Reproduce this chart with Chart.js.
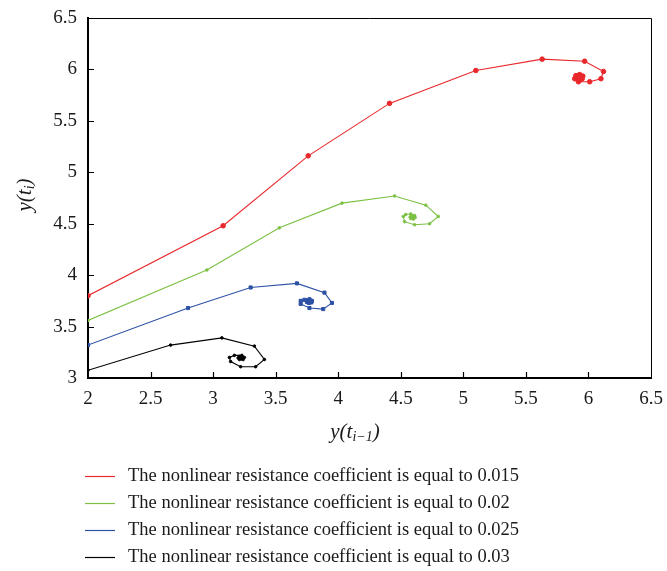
<!DOCTYPE html>
<html>
<head>
<meta charset="utf-8">
<script src="https://cdn.jsdelivr.net/npm/chart.js@4.4.1/dist/chart.umd.min.js"></script>
<style>
  html, body { margin: 0; padding: 0; background: #fff; }
  #wrap { width: 667px; height: 571px; }
</style>
</head>
<body>
<div id="wrap"><canvas id="phase-chart"></canvas></div>
<script>
// Axis ticks
const xTicks = [2, 2.5, 3, 3.5, 4, 4.5, 5, 5.5, 6, 6.5];
const yTicks = [3, 3.5, 4, 4.5, 5, 5.5, 6, 6.5];

const legendLabels = [
    "The nonlinear resistance coefficient is equal to 0.015",
    "The nonlinear resistance coefficient is equal to 0.02",
    "The nonlinear resistance coefficient is equal to 0.025",
    "The nonlinear resistance coefficient is equal to 0.03",
];

// y(t_{i-1}) against y(t_i) for each coefficient
const redX = [2.00, 3.08, 3.76, 4.41, 5.10, 5.63, 5.97, 6.12, 6.10, 6.01, 5.92, 5.89, 5.90, 5.93, 5.955, 5.95, 5.93, 5.91, 5.905, 5.915, 5.935, 5.94, 5.93, 5.92, 5.915, 5.92, 5.93, 5.93, 5.925];
const redY = [3.80, 4.48, 5.16, 5.67, 5.99, 6.10, 6.08, 5.98, 5.91, 5.88, 5.88, 5.91, 5.94, 5.95, 5.935, 5.91, 5.895, 5.905, 5.925, 5.94, 5.935, 5.92, 5.905, 5.91, 5.925, 5.932, 5.925, 5.915, 5.92];

const greenX = [2.00, 2.95, 3.53, 4.03, 4.45, 4.70, 4.80, 4.73, 4.61, 4.53, 4.52, 4.54, 4.58, 4.61, 4.615, 4.60, 4.58, 4.575, 4.585, 4.60, 4.605, 4.595, 4.59];
const greenY = [3.56, 4.05, 4.46, 4.70, 4.77, 4.68, 4.57, 4.50, 4.49, 4.52, 4.57, 4.59, 4.595, 4.58, 4.56, 4.545, 4.55, 4.565, 4.575, 4.57, 4.56, 4.555, 4.56];

const blueX = [2.00, 2.80, 3.30, 3.67, 3.89, 3.95, 3.88, 3.77, 3.70, 3.70, 3.73, 3.77, 3.79, 3.785, 3.765, 3.75, 3.755, 3.77, 3.78, 3.775, 3.765, 3.77];
const blueY = [3.32, 3.68, 3.88, 3.92, 3.83, 3.73, 3.67, 3.68, 3.72, 3.75, 3.76, 3.765, 3.75, 3.735, 3.73, 3.74, 3.755, 3.76, 3.75, 3.74, 3.745, 3.75];

const blackX = [2.00, 2.66, 3.07, 3.33, 3.41, 3.34, 3.22, 3.14, 3.13, 3.17, 3.23, 3.25, 3.24, 3.21, 3.20, 3.21, 3.23, 3.235, 3.225, 3.215, 3.22];
const blackY = [3.075, 3.32, 3.39, 3.31, 3.18, 3.11, 3.11, 3.16, 3.20, 3.22, 3.22, 3.20, 3.18, 3.18, 3.195, 3.21, 3.21, 3.195, 3.185, 3.195, 3.20];

const serif = "'Liberation Serif', 'DejaVu Serif', serif";

function toPoints(xs, ys){
    return xs.map((x, i) => ({x: x, y: ys[i]}));
};

function makeDataset(label, xs, ys, color, pointStyle, radius){
    return {
        label: label,
        data: toPoints(xs, ys),
        showLine: true,
        borderColor: color,
        backgroundColor: color,
        borderWidth: 1.1,
        pointStyle: pointStyle,
        pointRadius: radius,
        pointBorderWidth: 1,
        pointBackgroundColor: color,
        pointBorderColor: color,
        tension: 0,
    };
};

// Draws text runs where some runs are subscripts
function drawRich(ctx, parts, cx, cy){
    const mainFont = "italic 21px " + serif;
    const subFont = "italic 14px " + serif;
    let total = 0;
    parts.forEach(p => {
        ctx.font = p.sub ? subFont : mainFont;
        total += ctx.measureText(p.t).width;
    });
    let x = cx - total / 2;
    ctx.textBaseline = "middle";
    ctx.textAlign = "left";
    parts.forEach(p => {
        ctx.font = p.sub ? subFont : mainFont;
        ctx.fillText(p.t, x, p.sub ? cy + 5 : cy);
        x += ctx.measureText(p.t).width;
    });
};

// Box frame, inward ticks, axis titles and legend
const decorPlugin = {
    id: "decor",
    afterDraw(chart){
        const ctx = chart.ctx;
        const area = chart.chartArea;
        const xs = chart.scales.x;
        const ys = chart.scales.y;
        ctx.save();

        ctx.strokeStyle = "#000";
        ctx.lineWidth = 1;
        ctx.beginPath();
        ctx.moveTo(area.left, area.top + 0.5);
        ctx.lineTo(area.right + 0.5, area.top + 0.5);
        ctx.lineTo(area.right + 0.5, area.bottom);
        ctx.stroke();

        ctx.lineWidth = 1.2;
        ctx.beginPath();
        xTicks.slice(1, -1).forEach(v => {
            const px = Math.round(xs.getPixelForValue(v)) + 0.5;
            ctx.moveTo(px, area.bottom);
            ctx.lineTo(px, area.bottom - 6);
        });
        yTicks.slice(1, -1).forEach(v => {
            const py = Math.round(ys.getPixelForValue(v)) + 0.5;
            ctx.moveTo(area.left, py);
            ctx.lineTo(area.left + 6, py);
        });
        ctx.stroke();

        ctx.fillStyle = "#1a1a1a";
        drawRich(ctx, [{t: "y(t"}, {t: "i\u22121", sub: true}, {t: ")"}], area.left + 267, area.bottom + 54);
        ctx.save();
        ctx.translate(25, area.top + 177);
        ctx.rotate(-Math.PI / 2);
        drawRich(ctx, [{t: "y(t"}, {t: "i", sub: true}, {t: ")"}], 0, 0);
        ctx.restore();

        const startX = area.left - 3;
        const firstRow = area.bottom + 98;
        ctx.font = "18.5px " + serif;
        ctx.textBaseline = "middle";
        ctx.textAlign = "left";
        chart.data.datasets.forEach((ds, i) => {
            const rowY = firstRow + i * 27;
            ctx.strokeStyle = ds.borderColor;
            ctx.lineWidth = 1.2;
            ctx.beginPath();
            ctx.moveTo(startX, rowY + 0.5);
            ctx.lineTo(startX + 30, rowY + 0.5);
            ctx.stroke();
            ctx.fillStyle = "#1a1a1a";
            ctx.fillText(ds.label, startX + 43, rowY);
        });
        ctx.restore();
    }
};

const tickFont = {family: serif, size: 19};

const chartConfig = {
    type: "scatter",
    data: {
        datasets: [
            makeDataset(legendLabels[0], redX, redY, "#e8282c", "circle", 2.3),
            makeDataset(legendLabels[1], greenX, greenY, "#7cc144", "circle", 1.3),
            makeDataset(legendLabels[2], blueX, blueY, "#2d52a5", "rect", 2.2),
            makeDataset(legendLabels[3], blackX, blackY, "#000000", "circle", 1.3),
        ]
    },
    options: {
        responsive: true,
        maintainAspectRatio: false,
        animation: false,
        layout: {
            padding: {top: 18, right: 16, left: 0, bottom: 0}
        },
        scales: {
            x: {
                type: "linear",
                min: 2,
                max: 6.5,
                afterBuildTicks: scale => { scale.ticks = xTicks.map(v => ({value: v})); },
                afterFit: scale => {
                    scale.height = 193;
                    scale.paddingLeft = 0;
                    scale.paddingRight = 0;
                },
                ticks: {
                    color: "#1a1a1a",
                    font: tickFont,
                    padding: 10,
                    maxRotation: 0,
                    callback: v => String(v),
                },
                grid: {
                    drawOnChartArea: false,
                    drawTicks: false,
                },
                border: {
                    color: "#000",
                    width: 2,
                }
            },
            y: {
                type: "linear",
                min: 3,
                max: 6.5,
                afterBuildTicks: scale => { scale.ticks = yTicks.map(v => ({value: v})); },
                afterFit: scale => {
                    scale.width = 88;
                    scale.paddingTop = 0;
                    scale.paddingBottom = 0;
                },
                ticks: {
                    color: "#1a1a1a",
                    font: tickFont,
                    padding: 11,
                    callback: v => String(v),
                },
                grid: {
                    drawOnChartArea: false,
                    drawTicks: false,
                },
                border: {
                    color: "#000",
                    width: 2,
                }
            }
        },
        plugins: {
            legend: {display: false},
            tooltip: {enabled: false},
        }
    },
    plugins: [decorPlugin]
};

const phaseChart = new Chart(document.getElementById("phase-chart"), chartConfig);
</script>
</body>
</html>
